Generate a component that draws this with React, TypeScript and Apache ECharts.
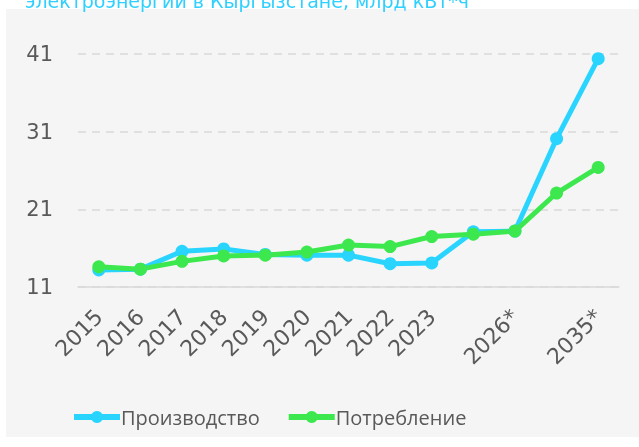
import React, { useEffect, useRef } from "react";
import * as echarts from "echarts";

const categories = ["2015", "2016", "2017", "2018", "2019", "2020", "2021", "2022", "2023", "2024", "2026*", "2030*", "2035*"];
const hiddenLabelIdx = [9, 11];
const production = [13.2, 13.3, 15.6, 15.9, 15.2, 15.1, 15.1, 14.0, 14.1, 18.1, 18.2, 30.1, 40.4];
const consumption = [13.6, 13.3, 14.3, 15.0, 15.1, 15.5, 16.4, 16.2, 17.5, 17.8, 18.2, 23.1, 26.4];
const seriesNames = ["Производство", "Потребление"];
const titleText = "электроэнергии в Кыргызстане, млрд кВт*ч";

const CYAN = "#29D4FF";
const GREEN = "#3CE84E";
const TEXT = "#595959";

export default function App() {
  const ref = useRef<HTMLDivElement>(null);
  useEffect(() => {
    if (!ref.current) return;
    const chart = echarts.init(ref.current, null, { renderer: "svg" });
    chart.setOption({
      animation: false,
      graphic: [
        { type: "rect", z: -10, shape: { x: 6, y: 9, width: 700, height: 428 }, style: { fill: "#F5F5F5" }, silent: true },
        {
          type: "text",
          x: 25,
          y: 10,
          style: { text: titleText, fill: "#2FD0FF", fontSize: 19, fontFamily: "DejaVu Sans", verticalAlign: "bottom", align: "left" },
        },
      ],
      grid: { left: 78, right: 20, top: 54, bottom: 160 },
      legend: {
        left: 66,
        top: 402,
        itemWidth: 46,
        itemHeight: 15,
        itemGap: 26,
        lineStyle: { width: 6 },
        textStyle: { fontFamily: "Open Sans", fontSize: 20, color: TEXT, padding: [0, 0, 0, -4] },
        data: seriesNames,
      },
      xAxis: {
        type: "category",
        data: categories,
        boundaryGap: true,
        axisLine: { lineStyle: { color: "#D9D9D9", width: 1.5 } },
        axisTick: { show: false },
        axisLabel: {
          rotate: 45,
          interval: (i: number) => !hiddenLabelIdx.includes(i),
          fontFamily: "DejaVu Sans",
          fontSize: 22,
          color: TEXT,
          margin: 26,
        },
      },
      yAxis: {
        type: "value",
        min: 11,
        max: 41,
        interval: 10,
        axisLine: { show: false },
        axisTick: { show: false },
        splitLine: { lineStyle: { color: "#D9D9D9", type: [8, 6], width: 1.5 } },
        axisLabel: { fontFamily: "DejaVu Sans", fontSize: 21, color: TEXT, margin: 25 },
      },
      series: [
        {
          name: seriesNames[0],
          type: "line",
          data: production,
          symbol: "circle",
          symbolSize: 13,
          itemStyle: { color: CYAN },
          lineStyle: { color: CYAN, width: 5 },
        },
        {
          name: seriesNames[1],
          type: "line",
          data: consumption,
          symbol: "circle",
          symbolSize: 13,
          itemStyle: { color: GREEN },
          lineStyle: { color: GREEN, width: 5 },
        },
      ],
    });
    return () => chart.dispose();
  }, []);
  return <div ref={ref} style={{ position: "fixed", left: 0, top: 0, width: 639, height: 447 }} />;
}
